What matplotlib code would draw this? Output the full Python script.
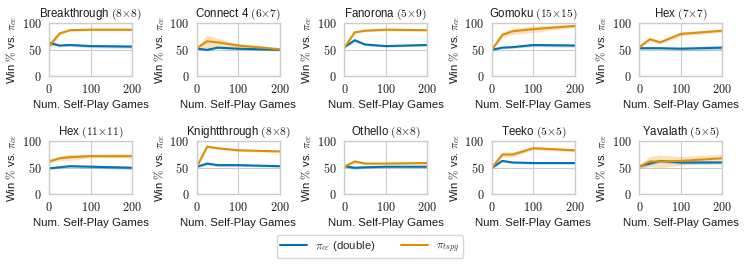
import matplotlib
matplotlib.use("Agg")
import matplotlib.pyplot as plt
import seaborn as sns
import numpy as np
from matplotlib.ticker import FuncFormatter, FixedLocator

sns.set_theme(style="whitegrid")
plt.rcParams['font.family'] = ['Liberation Sans', 'DejaVu Sans']
plt.rcParams['mathtext.fontset'] = 'cm'

games = ["Breakthrough $(8{\\times}8)$", "Connect 4 $(6{\\times}7)$", "Fanorona $(5{\\times}9)$",
         "Gomoku $(15{\\times}15)$", "Hex $(7{\\times}7)$", "Hex $(11{\\times}11)$",
         "Knightthrough $(8{\\times}8)$", "Othello $(8{\\times}8)$", "Teeko $(5{\\times}5)$",
         "Yavalath $(5{\\times}5)$"]
num_games = [0, 25, 50, 100, 200]

ce_mean = [
    [63, 58, 59, 57, 56],
    [52, 50, 54, 52, 50],
    [55, 68, 60, 57, 59],
    [50, 54, 55, 59, 58],
    [53, 53, 53, 52, 54],
    [49, 51, 53, 52, 50],
    [52, 58, 55, 55, 53],
    [53, 50, 51, 52, 52],
    [50, 63, 60, 59, 59],
    [53, 58, 63, 60, 60],
]
ce_err = [
    [3, 2, 2, 3, 3],
    [2, 2, 2, 2, 2],
    [2, 3, 2, 2, 2],
    [2, 2, 2, 3, 3],
    [2, 2, 2, 3, 4],
    [2, 2, 2, 3, 3],
    [2, 3, 2, 2, 2],
    [2, 3, 2, 2, 2],
    [2, 2, 2, 2, 2],
    [3, 3, 3, 3, 3],
]
tspg_mean = [
    [57, 81, 87, 88, 88],
    [53, 66, 64, 58, 51],
    [54, 83, 86, 88, 87],
    [50, 78, 85, 89, 95],
    [55, 70, 64, 80, 86],
    [62, 68, 70, 72, 72],
    [52, 90, 87, 83, 81],
    [52, 62, 58, 58, 59],
    [50, 75, 75, 87, 83],
    [52, 62, 62, 63, 68],
]
tspg_err = [
    [9, 3, 2, 2, 2],
    [3, 12, 8, 4, 3],
    [3, 3, 2, 2, 2],
    [3, 5, 6, 6, 3],
    [3, 3, 3, 4, 3],
    [4, 4, 6, 3, 4],
    [3, 2, 2, 2, 2],
    [3, 3, 2, 2, 3],
    [2, 5, 5, 3, 3],
    [4, 10, 12, 8, 8],
]

blue = "#0173b2"
orange = "#de8f05"

fig, axes = plt.subplots(2, 5, figsize=(7.47, 2.65), dpi=100)
fig.subplots_adjust(left=0.066, right=0.967, top=0.912, bottom=0.267, wspace=0.78, hspace=1.23)

fs = 8.0
fmt = FuncFormatter(lambda v, p: "$%d$" % v)
for i, ax in enumerate(axes.flat):
    x = np.array(num_games)
    for mean, err, col, lab in [(ce_mean[i], ce_err[i], blue, r"$\pi_{ce}$ (double)"),
                                (tspg_mean[i], tspg_err[i], orange, r"$\pi_{tspg}$")]:
        m = np.array(mean, float)
        e = np.array(err, float)
        ax.fill_between(x, m - e, m + e, color=col, alpha=0.25, lw=0)
        ax.plot(x, m, color=col, lw=1.5, label=lab)
    ax.set_xlim(0, 200)
    ax.set_ylim(0, 100)
    ax.xaxis.set_major_locator(FixedLocator([0, 100, 200]))
    ax.yaxis.set_major_locator(FixedLocator([0, 50, 100]))
    ax.xaxis.set_major_formatter(fmt)
    ax.yaxis.set_major_formatter(fmt)
    ax.tick_params(axis='y', labelsize=8.8, pad=5.5, length=0, labelcolor="0.1")
    ax.tick_params(axis='x', labelsize=8.8, pad=5, length=0, labelcolor="0.1")
    ax.set_title(games[i], fontsize=fs + 0.3, pad=4.5, color="0.1")
    ax.set_xlabel("Num. Self-Play Games", fontsize=fs + 0.2, labelpad=2.5, color="0.1")
    ax.set_ylabel(r"Win $\%$ vs. $\pi_{ce}$", fontsize=fs + 0.2, labelpad=2, color="0.1")
    for s in ax.spines.values():
        s.set_color("0.8")
        s.set_linewidth(1.0)
    ax.grid(color="0.8", lw=0.8)

h, l = axes.flat[0].get_legend_handles_labels()
leg = fig.legend(h, l, loc="lower center", bbox_to_anchor=(0.495, 0.005), ncol=2,
                 fontsize=fs + 0.2, frameon=True, handlelength=2.4, columnspacing=2.2,
                 borderpad=0.3, handletextpad=0.7, edgecolor="0.8")
fig.savefig("out.png", dpi=100)
